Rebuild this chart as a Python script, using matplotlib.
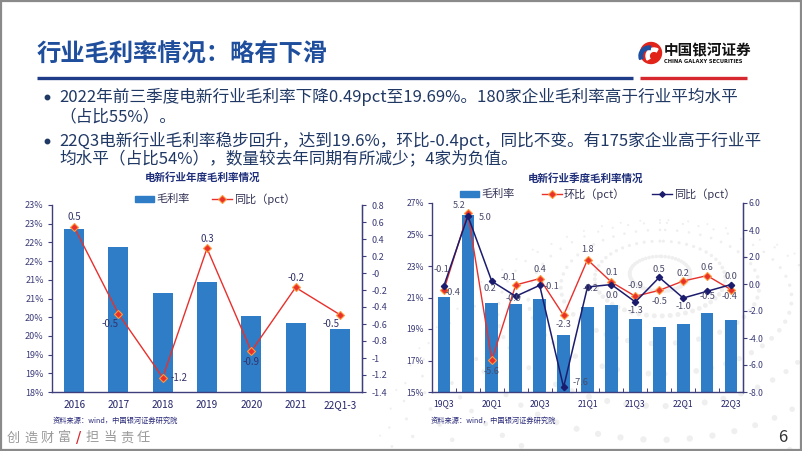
import math

import numpy as np
import matplotlib
matplotlib.use('Agg')
from matplotlib import pyplot as plt
from matplotlib import patches
from matplotlib.ticker import FuncFormatter, FixedLocator

plt.rcParams['font.family'] = ['Noto Sans CJK SC', 'DejaVu Sans']

# --- data ---
years = ['2016', '2017', '2018', '2019', '2020', '2021', '22Q1-3']
gm_year = [22.35, 21.87, 20.64, 20.94, 20.02, 19.85, 19.69]      # 毛利率 (%)
yoy_year = [0.54, -0.48, -1.23, 0.29, -0.92, -0.17, -0.49]       # 同比 (pct)

quarters = ['19Q3', '19Q4', '20Q1', '20Q2', '20Q3', '20Q4', '21Q1',
            '21Q2', '21Q3', '21Q4', '22Q1', '22Q2', '22Q3']
gm_q = [21.03, 26.26, 20.63, 20.57, 20.90, 18.60, 20.40,
        20.52, 19.61, 19.11, 19.34, 19.99, 19.59]
qoq_q = [-0.42, 5.24, -5.63, -0.07, 0.40, -2.32, 1.80,
         0.14, -0.91, -0.47, 0.22, 0.62, -0.42]                  # 环比 (pct)
yoy_q = [-0.12, 5.04, 0.20, -0.91, -0.10, -7.64, -0.22,
         -0.04, -1.33, 0.49, -1.04, -0.54, -0.04]                # 同比 (pct)

# data label offsets in pixels (dx, dy up)
off_year = [(0, 10), (-8, -10), (16, 0), (0, 9), (0, -11), (0, 9), (-9, -9)]
off_qoq = [(9, -3), (-9, 8), (0, -11), (-7, 7), (0, 9), (0, -9), (0, 10),
           (0, 10), (0, 11), (0, -11), (0, 8), (0, 8), (-2, -7)]
off_yoy = [(-3, 16), (17, -2), (-2, -7), (-2, -2), (12, -1), (17, 5), (3, -2),
           (0, -11), (0, -9), (0, 8), (0, -8), (0, -5), (0, 8)]

BAR = '#2E7DC6'
RED = '#E8302C'
NAVY = '#1C1C6E'
AXC = '#3E3E7C'
TXT = '#203864'

W, H = 802, 451
fig = plt.figure(figsize=(W / 100, H / 100), dpi=100)
fig.patch.set_facecolor('white')

# background layer in pixel coords
bg = fig.add_axes([0, 0, 1, 1], zorder=0)
bg.set_xlim(0, W)
bg.set_ylim(H, 0)
bg.axis('off')

# faint globe of dots behind the right chart
lat = np.radians(np.arange(-84, 85, 7))
lon = np.radians(np.arange(-180, 180, 7))
LA, LO = np.meshgrid(lat, lon)
px_ = np.cos(LA) * np.sin(LO)
py_ = np.sin(LA)
pz_ = np.cos(LA) * np.cos(LO)
tilt = np.radians(35)
py2 = py_ * np.cos(tilt) - pz_ * np.sin(tilt)
pz2 = py_ * np.sin(tilt) + pz_ * np.cos(tilt)
front = pz2 > 0
R, cx, cy = 290, 660, 510
bg.scatter(cx + R * px_[front], cy - R * py2[front], s=2 + 20 * pz2[front] ** 2,
           color='#efefef', linewidths=0, zorder=0)

# slide frame
bg.add_patch(patches.Rectangle((0.8, 0.8), W - 1.6, H - 1.6, fill=False,
                               edgecolor='#8a8a8a', lw=1.6, zorder=5))

# title + rule
bg.text(37, 55, '行业毛利率情况：略有下滑', fontsize=17.5, fontweight='bold',
        color='#1F4E9C', va='center', ha='left')
bg.plot([37, 633], [77.5, 77.5], color='#1F3C88', lw=2.4, solid_capstyle='butt')
bg.plot([640, 747], [77.5, 77.5], color='#D7282F', lw=2.4, solid_capstyle='butt')

# logo
bg.add_patch(patches.Circle((651, 53), 10.5, color='#E2231A', zorder=3))
bg.add_patch(patches.Wedge((654, 56), 8, 150, 300, width=3.2, color='white', zorder=4))
bg.add_patch(patches.Wedge((649, 56), 10, 160, 280, width=3.5, color='#1C4FA0', zorder=4))
bg.text(664, 50, '中国银河证券', fontsize=10.5, fontweight='bold', color='#111111',
        va='center', ha='left')
bg.text(664, 61.5, 'CHINA GALAXY SECURITIES', fontsize=3.7, fontweight='bold',
        color='#111111', va='center', ha='left', family='DejaVu Sans')

# bullets
lines = [
    (97, '2022年前三季度电新行业毛利率下降0.49pct至19.69%。180家企业毛利率高于行业平均水平', True),
    (117, '（占比55%）。', False),
    (141, '22Q3电新行业毛利率稳步回升，达到19.6%，环比-0.4pct，同比不变。有175家企业高于行业平', True),
    (160, '均水平（占比54%），数量较去年同期有所减少；4家为负值。', False),
]
for y, s, dot in lines:
    if dot:
        bg.plot([47], [y], marker='o', ms=3.2, color=TXT)
    bg.text(59, y, s, fontsize=12, color=TXT, va='center', ha='left')

# chart titles
bg.text(203, 178, '电新行业年度毛利率情况', fontsize=7.6, fontweight='bold',
        color='#1F2F7A', ha='center', va='center')
bg.text(586, 179, '电新行业季度毛利率情况', fontsize=7.6, fontweight='bold',
        color='#1F2F7A', ha='center', va='center')


def legend_bar(x, y, label):
    bg.add_patch(patches.Rectangle((x, y - 3), 19, 6, color=BAR))
    bg.text(x + 21, y, label, fontsize=8, color='#333355', va='center', ha='left')


def legend_line(x, y, label, color, mfc, mec, ms):
    bg.plot([x, x + 20], [y, y], color=color, lw=1)
    bg.plot([x + 10], [y], marker='D', color=mfc, mec=mec, ms=ms, mew=0.8)
    bg.text(x + 22, y, label, fontsize=8, color='#333355', va='center', ha='left')


legend_bar(135, 199, '毛利率')
legend_line(212, 199, '同比（pct）', RED, RED, '#FF9A3C', 4)
legend_bar(460, 194, '毛利率')
legend_line(542, 194, '环比（pct）', RED, RED, '#FF9A3C', 4)
legend_line(652, 194, '同比（pct）', NAVY, NAVY, NAVY, 3)

# source + footer
bg.text(53, 421, '资料来源：wind，中国银河证券研究院', fontsize=5.2, color='#2A2A7A',
        va='center', ha='left')
bg.text(431, 421, '资料来源：wind，中国银河证券研究院', fontsize=5.2, color='#2A2A7A',
        va='center', ha='left')
for i, ch in enumerate('创造财富'):
    bg.text(7 + i * 17, 438, ch, fontsize=9.5, color='#9a9a9a', va='center', ha='left')
bg.text(76, 438, '/', fontsize=11, color='#D7282F', va='center', ha='left',
        family='DejaVu Sans')
for i, ch in enumerate('担当责任'):
    bg.text(86 + i * 17, 438, ch, fontsize=9.5, color='#9a9a9a', va='center', ha='left')
bg.text(783, 438, '6', fontsize=12, color='#333333', va='center', ha='center')


def px_to_pt(d):
    return d * 72 / 100


def style_axes(ax, ax2):
    ax.set_facecolor('none')
    for sp in ['top']:
        ax.spines[sp].set_visible(False)
        ax2.spines[sp].set_visible(False)
    for sp in ['left', 'bottom']:
        ax.spines[sp].set_color(AXC)
        ax.spines[sp].set_linewidth(1)
    ax2.spines['right'].set_color(AXC)
    ax2.spines['right'].set_linewidth(1)
    ax2.spines['left'].set_visible(False)
    ax2.spines['bottom'].set_visible(False)
    ax.tick_params(axis='y', direction='out', length=3, width=0.8, color=AXC,
                   labelsize=6.5, labelcolor='#3A3A78', pad=3)
    ax2.tick_params(axis='y', direction='out', length=3, width=0.8, color=AXC,
                    labelsize=6.5, labelcolor='#3A3A78', pad=3)


def label_points(ax, xs, vals, offs, color, size):
    for x, v, (dx, dy) in zip(xs, vals, offs):
        s = f'{v:.1f}'
        if s == '-0.0':
            s = '0.0'
        ax.annotate(s, (x, v), xytext=(px_to_pt(dx), px_to_pt(dy)),
                    textcoords='offset points', ha='center', va='center',
                    fontsize=size, color=color, zorder=6)


# --- left chart: yearly ---
axL = fig.add_axes([52 / W, 1 - 392 / H, 310 / W, 187 / H], zorder=2)
xL = np.arange(len(years))
axL.bar(xL, gm_year, width=0.45, color=BAR, zorder=2)
axL.set_xlim(-0.5, len(years) - 0.5)
axL.set_ylim(18, 23)
axL.set_yticks(np.arange(18, 23.01, 0.5))
axL.yaxis.set_major_formatter(FuncFormatter(lambda v, p: f'{math.floor(v + 0.5)}%'))
axL.set_xticks(xL)
axL.set_xticklabels(years, fontsize=7.2, color='#23236A')
axL.tick_params(axis='x', length=0, pad=6)
axL2 = axL.twinx()
axL2.plot(xL, yoy_year, color=RED, lw=1, marker='D', ms=4.2, mfc=RED,
          mec='#FF9A3C', mew=0.8, zorder=4)
axL2.set_ylim(-1.4, 0.8)
axL2.set_yticks(np.arange(-1.4, 0.81, 0.2))
axL2.yaxis.set_major_formatter(FuncFormatter(lambda v, p: f'{round(v, 1):g}'))
style_axes(axL, axL2)
axL2.tick_params(axis='y', pad=4)
label_points(axL2, xL, yoy_year, off_year, '#33336A', 7)

# --- right chart: quarterly ---
axR = fig.add_axes([432 / W, 1 - 392 / H, 311 / W, 189 / H], zorder=2)
xR = np.arange(len(quarters))
axR.bar(xR, gm_q, width=0.53, color=BAR, zorder=2)
axR.set_xlim(-0.5, len(quarters) - 0.5)
axR.set_ylim(15, 27)
axR.set_yticks(np.arange(15, 27.01, 2))
axR.yaxis.set_major_formatter(FuncFormatter(lambda v, p: f'{v:.0f}%'))
axR.set_xticks(xR[::2])
axR.set_xticklabels(quarters[::2], fontsize=6.2, color='#23236A')
axR.xaxis.set_minor_locator(FixedLocator(np.arange(-0.5, len(quarters), 1)))
axR.tick_params(axis='x', which='major', length=0, pad=5)
axR.tick_params(axis='x', which='minor', direction='in', length=3, width=0.7, color=AXC)
axR2 = axR.twinx()
axR2.plot(xR, qoq_q, color=RED, lw=1, marker='D', ms=4.2, mfc=RED,
          mec='#FF9A3C', mew=0.8, zorder=4)
axR2.plot(xR, yoy_q, color=NAVY, lw=1.1, marker='D', ms=3.2, mfc=NAVY,
          mec=NAVY, zorder=5)
axR2.set_ylim(-8, 6)
axR2.set_yticks(np.arange(-8, 6.01, 2))
axR2.yaxis.set_major_formatter(FuncFormatter(lambda v, p: f'{v:.1f}'))
style_axes(axR, axR2)
axR.tick_params(axis='y', labelsize=6.2)
axR2.tick_params(axis='y', labelsize=6.2, pad=1)
label_points(axR2, xR, qoq_q, off_qoq, '#4A4A6A', 6.6)
label_points(axR2, xR, yoy_q, off_yoy, '#4A4A6A', 6.6)

fig.savefig('out.png', dpi=100)
